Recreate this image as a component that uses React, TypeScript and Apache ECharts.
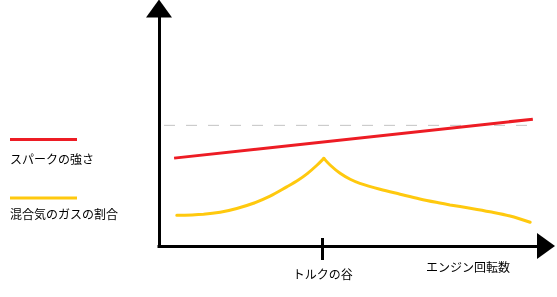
import React, { useEffect, useRef } from "react";
import * as echarts from "echarts";

// x: engine speed (arbitrary 0-100), y: level (arbitrary 0-100)
const sparkStrength: number[][] = [
  [3.9, 37.0],
  [96.6, 53.4],
];
const referenceLevel: number[][] = [
  [1.3, 50.8],
  [95.1, 50.8],
];
// mixture ratio, rising to the torque valley
const mixtureRising: number[][] = [
  [4.6, 12.9],
  [11.5, 13.4],
  [15.8, 14.2],
  [20.1, 15.8],
  [24.4, 18.0],
  [28.7, 21.0],
  [33.0, 24.9],
  [36.0, 27.8],
  [38.4, 30.6],
  [40.8, 34.0],
  [42.6, 36.9],
];
// mixture ratio, falling after the torque valley
const mixtureFalling: number[][] = [
  [42.6, 36.9],
  [44.2, 34.1],
  [46.8, 30.6],
  [49.4, 28.1],
  [51.9, 26.4],
  [57.1, 23.9],
  [62.3, 21.8],
  [67.4, 19.8],
  [72.2, 18.2],
  [75.2, 17.3],
  [80.4, 15.9],
  [85.5, 14.4],
  [90.7, 12.6],
  [95.9, 10.0],
];
const tickValues: number[] = [42.3];
const tickLabels: string[] = ["トルクの谷"];
const xAxisName = "エンジン回転数";
const legendNames: string[] = ["スパークの強さ", "混合気のガスの割合"];

const RED = "#ed1c24";
const YELLOW = "#ffc90e";
const FONT = "'Noto Sans CJK JP', 'Noto Sans', sans-serif";

export default function App() {
  const ref = useRef<HTMLDivElement>(null);
  useEffect(() => {
    if (!ref.current) return;
    const chart = echarts.init(ref.current, undefined, { renderer: "svg" });
    chart.setOption({
      animation: false,
      grid: {
        left: 159,
        right: 11,
        top: 8.5,
        bottom: 51,
        outerBoundsMode: "none",
      },
      xAxis: [
        {
          type: "value",
          min: 0,
          max: 100,
          position: "bottom",
          splitLine: { show: false },
          axisLine: {
            show: true,
            symbol: ["none", "triangle"],
            symbolSize: [26, 18],
            lineStyle: { color: "#000", width: 3, cap: "square" },
          },
          axisTick: {
            show: true,
            customValues: tickValues,
            length: 14,
            inside: false,
            lineStyle: { color: "#000", width: 3 },
          },
          axisLabel: {
            show: true,
            customValues: tickValues,
            margin: 21,
            color: "#000",
            fontSize: 12,
            fontFamily: FONT,
            formatter: (v: number) => {
              const i = tickValues.findIndex((t) => Math.abs(t - v) < 1e-6);
              return i >= 0 ? tickLabels[i] : "";
            },
          },
          name: xAxisName,
          nameLocation: "end",
          nameGap: -78,
          nameTextStyle: {
            color: "#000",
            fontSize: 12,
            fontFamily: FONT,
            align: "center",
            verticalAlign: "top",
            padding: [14, 0, 0, 0],
          },
        },
        {
          type: "value",
          min: 0,
          max: 100,
          position: "bottom",
          offset: 0,
          splitLine: { show: false },
          axisLine: { show: false },
          axisTick: {
            show: true,
            customValues: tickValues,
            length: 8,
            inside: true,
            lineStyle: { color: "#000", width: 3 },
          },
          axisLabel: { show: false },
        },
      ],
      yAxis: {
        type: "value",
        min: 0,
        max: 100,
        splitLine: { show: false },
        axisTick: { show: false },
        axisLabel: { show: false },
        axisLine: {
          show: true,
          symbol: ["none", "triangle"],
          symbolSize: [26, 18],
          lineStyle: { color: "#000", width: 3, cap: "square" },
        },
      },
      graphic: [
        {
          type: "line",
          shape: { x1: 10, y1: 139.5, x2: 77, y2: 139.5 },
          style: { stroke: RED, lineWidth: 3 },
        },
        {
          type: "text",
          x: 10,
          y: 158,
          style: {
            text: legendNames[0],
            fill: "#000",
            font: `12px ${FONT}`,
            verticalAlign: "middle",
            align: "left",
          },
        },
        {
          type: "line",
          shape: { x1: 10, y1: 198, x2: 77, y2: 198 },
          style: { stroke: YELLOW, lineWidth: 3 },
        },
        {
          type: "text",
          x: 10,
          y: 213.5,
          style: {
            text: legendNames[1],
            fill: "#000",
            font: `12px ${FONT}`,
            verticalAlign: "middle",
            align: "left",
          },
        },
      ],
      series: [
        {
          type: "line",
          data: referenceLevel,
          symbol: "none",
          silent: true,
          lineStyle: { color: "#c3c3c3", width: 1, type: [11, 11] },
        },
        {
          type: "line",
          name: legendNames[0],
          data: sparkStrength,
          symbol: "none",
          silent: true,
          lineStyle: { color: RED, width: 3 },
        },
        {
          type: "line",
          name: legendNames[1],
          data: mixtureRising,
          symbol: "none",
          silent: true,
          smooth: 0.35,
          lineStyle: { color: YELLOW, width: 3, cap: "round" },
        },
        {
          type: "line",
          name: legendNames[1],
          data: mixtureFalling,
          symbol: "none",
          silent: true,
          smooth: 0.35,
          lineStyle: { color: YELLOW, width: 3, cap: "round" },
        },
      ],
    });
    return () => chart.dispose();
  }, []);
  return (
    <div
      ref={ref}
      style={{ position: "fixed", left: 0, top: 0, width: 557, height: 297 }}
    />
  );
}
